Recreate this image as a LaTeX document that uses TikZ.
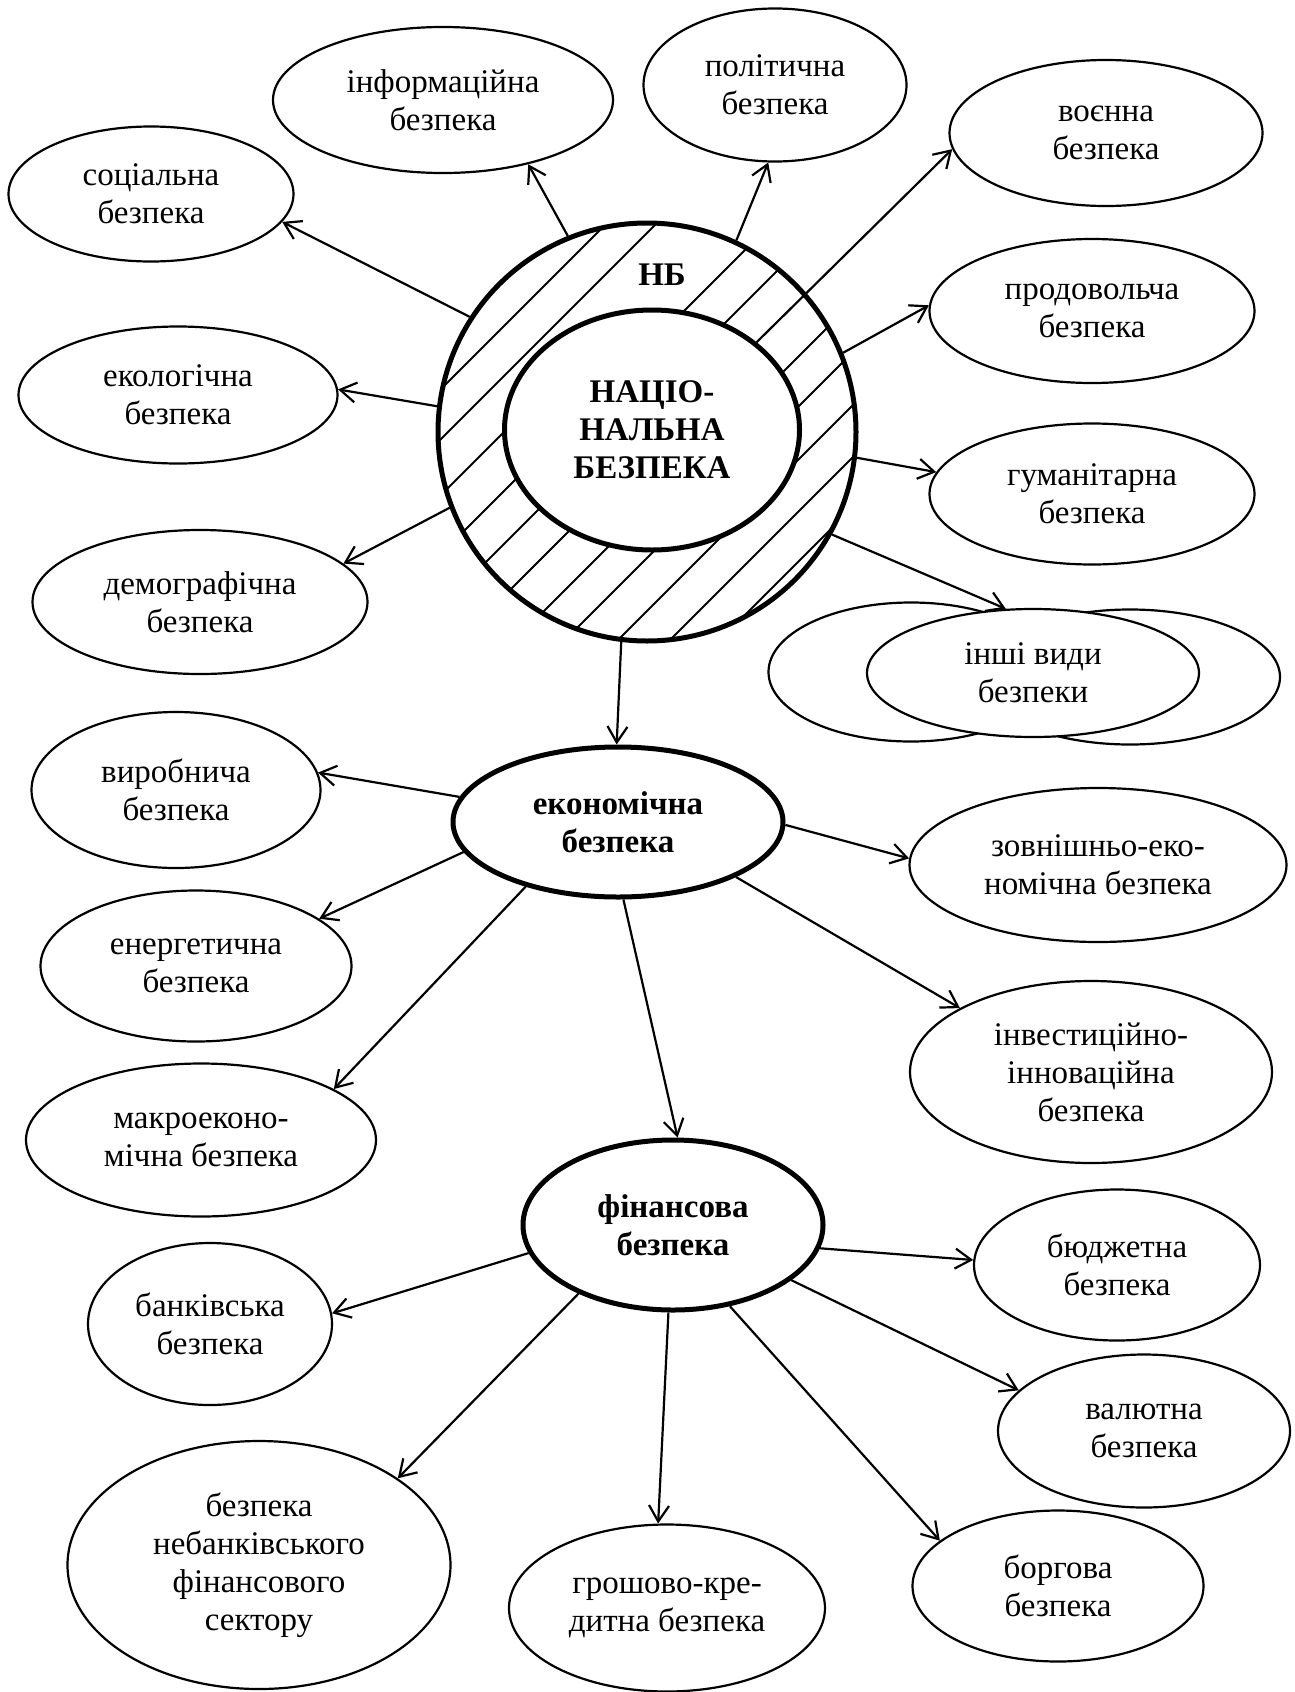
\documentclass[tikz,border=0pt]{standalone}
\usepackage{fontspec}
\setmainfont{Liberation Serif}
\usetikzlibrary{shapes.geometric,arrows.meta}

\begin{document}
\begin{tikzpicture}[x=1pt,y=-1pt,
		kind/.style={ellipse,draw,line width=2.2pt,inner sep=0pt,align=center,font=\fontsize{33}{38}\selectfont},
		main/.style={kind,line width=5pt,font=\fontsize{33}{38}\selectfont\bfseries},
		link/.style={line width=2.2pt,-{Straight Barb[length=16pt,width=20pt]}},
		hatch/.style={line width=1.8pt}]
	\useasboundingbox (0,0) rectangle (1294,1692);
	\coordinate (nbc) at (647,432);
	\begin{scope}
		\clip (nbc) circle (209pt);
		\foreach \hk in {830,880,995,1048,1155,1205,1258,1310,1360}
			\draw[hatch] (300,\hk-300) -- (1000,\hk-1000);
		\draw[hatch] (300,636) -- (520,416);
		\draw[hatch] (300,800) -- (600,500);
	\end{scope}
	\node[main,fill=white,minimum width=295pt,minimum height=240pt] (core) at (652,430) {НАЦІО-\\НАЛЬНА\\БЕЗПЕКА};
	\node[circle,draw,line width=5pt,minimum size=418pt] (nb) at (nbc) {};
	\node[font=\fontsize{33}{38}\selectfont\bfseries] (nbl) at (662,275) {НБ};

	\node[kind,minimum width=285pt,minimum height=135pt] (soc) at (151,194) {соціальна\\безпека};
	\node[kind,minimum width=340pt,minimum height=146pt] (inf) at (443,100) {інформаційна\\безпека};
	\node[kind,minimum width=263pt,minimum height=153pt] (pol) at (775,85) {політична\\безпека};
	\node[kind,minimum width=313pt,minimum height=146pt] (mil) at (1106,133) {воєнна\\безпека};
	\node[kind,minimum width=325pt,minimum height=144pt] (food) at (1092,311) {продовольча\\безпека};
	\node[kind,minimum width=319pt,minimum height=137pt] (eco) at (178,395) {екологічна\\безпека};
	\node[kind,minimum width=325pt,minimum height=141pt] (hum) at (1092,494) {гуманітарна\\безпека};
	\node[kind,minimum width=335pt,minimum height=144pt] (dem) at (200,602) {демографічна\\безпека};
	\node[kind,minimum width=285pt,minimum height=139pt] (othl) at (911,672) {};
	\node[kind,minimum width=300pt,minimum height=135pt] (othr) at (1130,677) {};
	\node[kind,fill=white,minimum width=332pt,minimum height=128pt] (oth) at (1033,673) {інші види\\безпеки};

	\node[main,minimum width=330pt,minimum height=150pt] (ecs) at (618,822) {економічна\\безпека};
	\node[kind,minimum width=289pt,minimum height=156pt] (prod) at (176,790) {виробнича\\безпека};
	\node[kind,minimum width=377pt,minimum height=154pt] (ext) at (1098,865) {зовнішньо-еко-\\номічна безпека};
	\node[kind,minimum width=311pt,minimum height=151pt] (enr) at (196,966) {енергетична\\безпека};
	\node[kind,minimum width=362pt,minimum height=182pt] (inv) at (1091,1072) {інвестиційно-\\інноваційна\\безпека};
	\node[kind,minimum width=350pt,minimum height=153pt] (mac) at (201,1140) {макроеконо-\\мічна безпека};

	\node[main,minimum width=300pt,minimum height=170pt] (fin) at (673,1225) {фінансова\\безпека};
	\node[kind,minimum width=244pt,minimum height=162pt] (bank) at (210,1324) {банківська\\безпека};
	\node[kind,minimum width=286pt,minimum height=151pt] (bud) at (1117,1265) {бюджетна\\безпека};
	\node[kind,minimum width=292pt,minimum height=153pt] (cur) at (1144,1431) {валютна\\безпека};
	\node[kind,minimum width=383pt,minimum height=248pt] (nbf) at (259,1565) {безпека\\небанківського\\фінансового\\сектору};
	\node[kind,minimum width=316pt,minimum height=167pt] (mon) at (667,1608) {грошово-кре-\\дитна безпека};
	\node[kind,minimum width=291pt,minimum height=151pt] (debt) at (1058,1586) {боргова\\безпека};

	\draw[link] (nb.147) -- (soc.348);
	\draw[link] (nb.112) -- (inf.323);
	\draw[link] (nb.65) -- (pol.265);
	\draw[link] (core.40) -- (mil.186);
	\draw[link] (nb.22) -- (food.178);
	\draw[link] (nb.173) -- (eco.2);
	\draw[link] (nb.353) -- (hum.172);
	\draw[link] (nb.201) -- (dem.15);
	\draw[link] (nb.331) -- (oth.113);
	\draw[link] (nb.263) -- (ecs.91);

	\draw[link] (ecs.171) -- (prod.7);
	\draw[link] (ecs.191) -- (enr.21);
	\draw[link] (ecs.215) -- (mac.21);
	\draw[link] (ecs.359) -- (ext.178);
	\draw[link] (ecs.335) -- (inv.154);
	\draw[link] (ecs.274) -- (fin.87);

	\draw[link] (fin.191) -- (bank.5);
	\draw[link] (fin.216) -- (nbf.32);
	\draw[link] (fin.267) -- (mon.96);
	\draw[link] (fin.305) -- (debt.159);
	\draw[link] (fin.351) -- (bud.178);
	\draw[link] (fin.335) -- (cur.162);
\end{tikzpicture}
\end{document}
